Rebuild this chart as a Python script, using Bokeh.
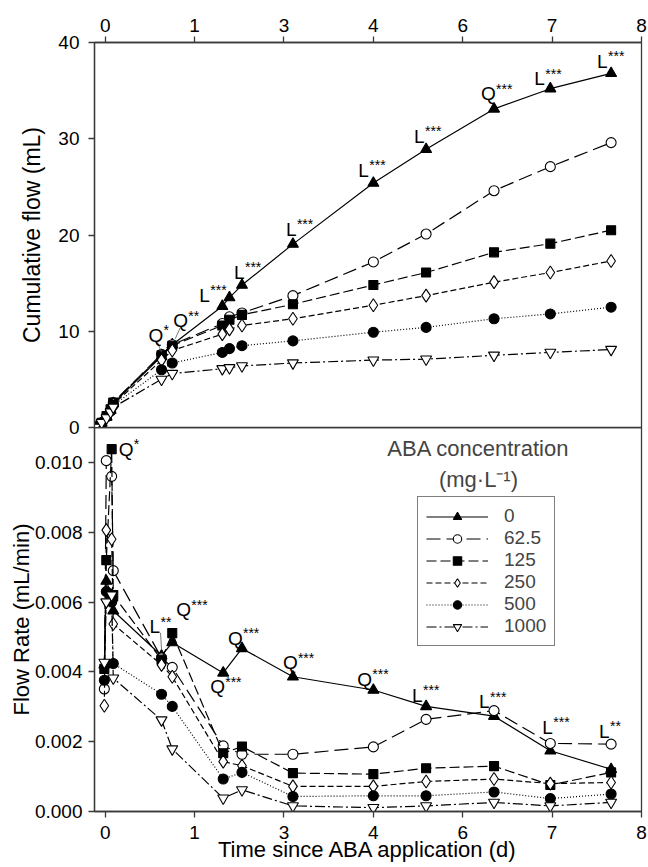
from bokeh.plotting import figure
from bokeh.layouts import column
from bokeh.models import Range1d, FixedTicker, Legend, LegendItem, Label, NumeralTickFormatter
from bokeh.embed import file_html
from bokeh.resources import INLINE

# ---------------- data ----------------
# positions on the (broken) time axis; ticks at 0..6 carry the labels below
tick_pos = [0, 1, 2, 3, 4, 5, 6]
tick_labels = ["0", "1", "3", "4", "6", "7", "8"]

series = ["0", "62.5", "125", "250", "500", "1000"]

t_cum = [-0.115, -0.04, 0.015, 0.06, 0.09, 0.63, 0.75, 1.31, 1.39, 1.53, 2.10, 3.0, 3.59, 4.35, 4.98, 5.66]
cum_0 = [0, 0.5, 1.1, 1.8, 2.5, 7.4, 8.6, 12.6, 13.5, 14.8, 19.05, 25.4, 28.9, 33.1, 35.2, 36.8]
cum_62 = [0, 0.5, 1.2, 1.8, 2.6, 7.6, 8.6, 10.8, 11.5, 11.9, 13.7, 17.2, 20.1, 24.6, 27.1, 29.6]
cum_125 = [0, 0.5, 1.2, 1.9, 2.6, 7.5, 8.5, 10.6, 11.2, 11.7, 12.8, 14.8, 16.1, 18.2, 19.1, 20.5]
cum_250 = [0, 0.4, 1.1, 1.7, 2.4, 7.0, 8.0, 9.7, 10.2, 10.6, 11.3, 12.7, 13.7, 15.1, 16.1, 17.3]
cum_500 = [0, 0.5, 1.1, 1.7, 2.3, 6.0, 6.7, 7.8, 8.2, 8.5, 9.0, 9.9, 10.4, 11.3, 11.8, 12.5]
cum_1000 = [0, 0.5, 1.0, 1.6, 2.1, 5.0, 5.6, 6.1, 6.2, 6.4, 6.7, 7.0, 7.1, 7.5, 7.8, 8.1]

t_rate = [-0.01, 0.012, 0.072, 0.09, 0.63, 0.75, 1.32, 1.53, 2.10, 3.0, 3.59, 4.35, 4.98, 5.66]
rate_0 = [0.0042, 0.0066, 0.0062, 0.00575, 0.00446, 0.00484, 0.00397, 0.00467, 0.00386, 0.00348, 0.00301, 0.00273, 0.00174, 0.00121]
rate_62 = [0.00351, 0.01005, 0.0096, 0.0069, 0.0044, 0.00413, 0.00188, 0.00164, 0.00164, 0.00185, 0.00264, 0.00289, 0.00195, 0.00193]
rate_125 = [0.00408, 0.0072, 0.01038, 0.0062, 0.00435, 0.00511, 0.00167, 0.00186, 0.0011, 0.00107, 0.00124, 0.0013, 0.00076, 0.00112]
rate_250 = [0.00303, 0.00806, 0.0078, 0.00537, 0.0042, 0.00386, 0.00143, 0.00131, 0.00072, 0.00072, 0.00086, 0.00093, 0.0008, 0.00083]
rate_500 = [0.00376, 0.0063, 0.0060, 0.00424, 0.00336, 0.00301, 0.00093, 0.00112, 0.00043, 0.00045, 0.00045, 0.00056, 0.00037, 0.0005]
rate_1000 = [0.00427, 0.0060, 0.0062, 0.00382, 0.00262, 0.00179, 0.00038, 0.00062, 0.00016, 0.00011, 0.00016, 0.00026, 0.00016, 0.00026]

cum = dict(zip(series, [cum_0, cum_62, cum_125, cum_250, cum_500, cum_1000]))
rate = dict(zip(series, [rate_0, rate_62, rate_125, rate_250, rate_500, rate_1000]))

# significance annotations: (series anchored, point index, letter, stars, dx px, dy px up)
top_notes = [
    ("0", 5, "Q", "*", -13, 16), ("0", 6, "Q", "**", 1, 19),
    ("0", 7, "L", "***", -23, 6), ("0", 9, "L", "***", -8, 8),
    ("0", 10, "L", "***", -7, 10), ("0", 11, "L", "***", -15, 8),
    ("0", 12, "L", "***", -12, 8), ("0", 13, "Q", "***", -13, 10),
    ("0", 14, "L", "***", -16, 5), ("0", 15, "L", "***", -14, 7),
]
bot_notes = [
    ("125", 2, "Q", "*", 7, -5), ("0", 4, "L", "**", -12, 24),
    ("0", 5, "Q", "***", 4, 28), ("0", 6, "Q", "***", -13, -19),
    ("0", 7, "Q", "***", -14, 5), ("0", 8, "Q", "***", -10, 9),
    ("0", 9, "Q", "***", -16, 6), ("0", 10, "L", "***", -14, 6),
    ("62.5", 11, "L", "***", -15, 4), ("62.5", 12, "L", "***", -8, 11),
    ("62.5", 13, "L", "**", -12, 8),
]
# leader lines: (series, index, start dx, start dy, end dx, end dy) in px
top_leaders = [("0", 5, -4, 14, 0, 4), ("0", 6, 8, 17, 3, 6)]
bot_leaders = [("0", 4, -1, 23, 0, 6)]

# ---------------- style ----------------
FONT = "Liberation Sans"
FRAME = "#3a3a3a"
STYLE = {
    "0": dict(marker="triangle", fill="black", dash="solid", size=11),
    "62.5": dict(marker="circle", fill="white", dash="14 6", size=10),
    "125": dict(marker="square", fill="black", dash="10 4", size=9),
    "250": dict(marker="diamond", fill="white", dash="6 3", size=13),
    "500": dict(marker="circle", fill="black", dash="1 2", size=10),
    "1000": dict(marker="inverted_triangle", fill="white", dash="10 3 2 3", size=11),
}

X0, X1 = -0.12, 6.0
FW = 547
TICK_FS = "19px"
NOTE_LIFT = 5


def style_axis(ax, lab_standoff, title_standoff, title_fs="22px"):
    ax.axis_line_color = FRAME
    ax.axis_line_width = 1.3
    ax.major_tick_line_color = FRAME
    ax.major_tick_line_width = 1.3
    ax.major_tick_out = 6
    ax.major_tick_in = 0
    ax.minor_tick_line_color = None
    ax.major_label_text_font = FONT
    ax.major_label_text_font_size = TICK_FS
    ax.major_label_text_color = "black"
    ax.major_label_standoff = lab_standoff
    ax.axis_label_text_font = FONT
    ax.axis_label_text_font_size = title_fs
    ax.axis_label_text_font_style = "normal"
    ax.axis_label_text_color = "black"
    ax.axis_label_standoff = title_standoff


def base(p):
    p.grid.visible = False
    p.outline_line_color = FRAME
    p.outline_line_width = 1.3
    p.background_fill_color = None
    p.border_fill_color = None


def draw(p, xs, data):
    rends = {}
    for s in series:
        st = STYLE[s]
        l = p.line(xs, data[s], line_color="black", line_width=1.2, line_dash=st["dash"])
        m = p.scatter(xs, data[s], marker=st["marker"], size=st["size"], fill_color=st["fill"],
                      line_color="black", line_width=1.1)
        rends[s] = (l, m)
    return rends


def notes(p, xs, data, items, leaders, ypx):
    xpx = FW / (X1 - X0)
    for s, i, letter, stars, dx, dy in items:
        x, y = xs[i], data[s][i]
        dy = dy + NOTE_LIFT
        p.add_layout(Label(x=x, y=y, x_offset=dx, y_offset=dy, text=letter, text_font=FONT,
                           text_font_size="19px", text_baseline="alphabetic", text_color="black"))
        w = 15 if letter == "Q" else 11
        p.add_layout(Label(x=x, y=y, x_offset=dx + w, y_offset=dy + 5, text=stars, text_font=FONT,
                           text_font_size="14px", text_baseline="alphabetic", text_color="black"))
    for s, i, sdx, sdy, edx, edy in leaders:
        x, y = xs[i], data[s][i]
        p.segment(x0=[x + sdx / xpx], y0=[y + sdy / ypx], x1=[x + edx / xpx], y1=[y + edy / ypx],
                  line_color="#555555", line_width=0.8)


# ---------------- top panel ----------------
top = figure(width=648, height=437, x_range=Range1d(X0, X1), y_range=Range1d(0, 40),
             x_axis_location="above", output_backend="svg", toolbar_location=None,
             min_border_left=94, min_border_right=7, min_border_top=42, min_border_bottom=10)
base(top)
top.xaxis.ticker = FixedTicker(ticks=tick_pos)
top.xaxis.major_label_overrides = {p_: l_ for p_, l_ in zip(tick_pos, tick_labels)}
top.yaxis.ticker = FixedTicker(ticks=[0, 10, 20, 30, 40])
top.yaxis.axis_label = "Cumulative flow (mL)"
style_axis(top.xaxis[0], 5, 0)
style_axis(top.yaxis[0], 9, 10, "23px")
draw(top, t_cum, cum)
notes(top, t_cum, cum, top_notes, top_leaders, 385 / 40)

# ---------------- bottom panel ----------------
bot = figure(width=648, height=440, x_range=Range1d(X0, X1), y_range=Range1d(0, 0.011),
             output_backend="svg", toolbar_location=None,
             min_border_left=94, min_border_right=7, min_border_top=0, min_border_bottom=56)
bot.margin = (-10, 0, 0, 0)
base(bot)
bot.xaxis.ticker = FixedTicker(ticks=tick_pos)
bot.xaxis.major_label_overrides = {p_: l_ for p_, l_ in zip(tick_pos, tick_labels)}
bot.xaxis.axis_label = "Time since ABA application (d)"
bot.yaxis.ticker = FixedTicker(ticks=[0, 0.002, 0.004, 0.006, 0.008, 0.010])
bot.yaxis.formatter = NumeralTickFormatter(format="0.000")
bot.yaxis.axis_label = "Flow Rate (mL/min)"
style_axis(bot.xaxis[0], 8, -5)
style_axis(bot.yaxis[0], 6, -2)
rends = draw(bot, t_rate, rate)
notes(bot, t_rate, rate, bot_notes, bot_leaders, 384 / 0.011)

legend = Legend(items=[LegendItem(label=s, renderers=list(rends[s])) for s in series],
                location=(323, 165), margin=0, padding=8, spacing=0,
                glyph_width=62, glyph_height=21, label_height=21, label_standoff=16,
                label_text_font=FONT, label_text_font_size="19px",
                border_line_color="black", border_line_width=1,
                background_fill_color="white", background_fill_alpha=1)
bot.add_layout(legend)

# legend heading (placed in data units of the bottom panel)
bot.add_layout(Label(x=4.176, y=0.01041, text="ABA concentration", text_font=FONT,
                     text_font_size="22px", text_align="center", text_baseline="middle"))
bot.add_layout(Label(x=4.176, y=0.00951, text="(mg\u00b7L\u207b\u00b9)", text_font=FONT,
                     text_font_size="22px", text_align="center", text_baseline="middle"))

layout = column(top, bot)
open("out.html", "w").write(file_html(layout, INLINE))
